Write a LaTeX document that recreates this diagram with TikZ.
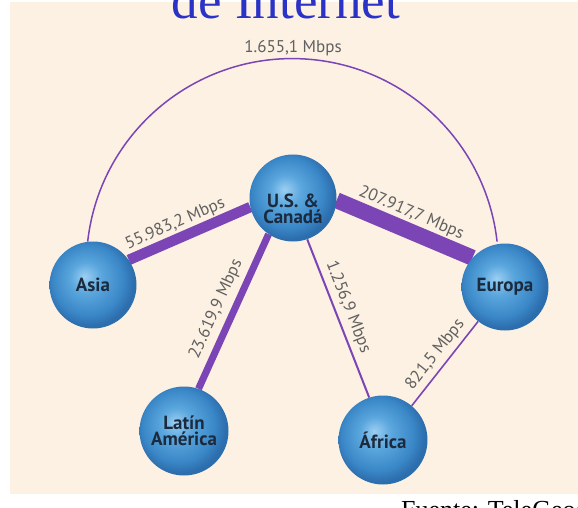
\documentclass[tikz,border=0pt]{standalone}
\usepackage{fontspec}
\setmainfont{Liberation Serif}
\newfontfamily\lblfont{PT Sans}
\newfontfamily\nodefont{PT Sans}
\pgfdeclarelayer{panel}
\pgfdeclarelayer{edges}
\pgfsetlayers{panel,edges,main}
\definecolor{panelc}{HTML}{FCF1E3}
\definecolor{bandc}{HTML}{7B45B5}
\definecolor{lblc}{HTML}{606060}
\definecolor{nodetxt}{HTML}{1C2A3E}
\definecolor{titleblue}{HTML}{2B33C6}
\definecolor{sph1}{HTML}{9ACFF2}
\definecolor{sph2}{HTML}{5AA6DD}
\definecolor{sph3}{HTML}{3B88C8}
\definecolor{sph4}{HTML}{2C6DAD}
\pgfdeclareradialshading{sphere}{\pgfpoint{-5bp}{5bp}}{color(0bp)=(sph1); color(9bp)=(sph2); color(20bp)=(sph3); color(26bp)=(sph4); color(50bp)=(sph4)}
\tikzset{
  ball/.style={circle, inner sep=0pt, minimum size=87pt, shading=sphere, text=nodetxt,
    font=\nodefont\bfseries\fontsize{19}{16.5}\selectfont, align=center},
  lbl/.style={text=lblc, font=\lblfont\fontsize{17}{19}\selectfont, inner sep=1.5pt},
  link/.style={draw=bandc}
}
\begin{document}
\begin{tikzpicture}[x=1pt, y=1pt]
\begin{pgfonlayer}{panel}
  \fill[white] (0,0) rectangle (578,507);
  \fill[panelc] (10,13) rectangle (578,505);
\end{pgfonlayer}
\useasboundingbox (0,0) rectangle (578,507);
\node[text=titleblue, font=\fontsize{53}{60}\selectfont, anchor=base, inner sep=0pt] (title) at (286,488) {de Internet};
\node[anchor=base west, font=\fontsize{26}{30}\selectfont, inner sep=0pt] (src) at (401,-11) {Fuente: TeleGeography};
% spheres
\node[ball] (usc) at (293,309) {};
\node[text=nodetxt, font=\nodefont\bfseries\fontsize{19}{16.5}\selectfont, align=center, inner sep=0pt] (usct) at (293,298) {U.S. \&\\Canadá};
\node[ball] (asia) at (93,222) {Asia};
\node[ball] (europa) at (505,220) {Europa};
\node[ball, minimum size=89pt] (latam) at (184,76) {Latín\\América};
\node[ball, minimum size=89pt] (africa) at (383,67) {África};
\node[lbl] (l1) at (293,459) {1.655,1 Mbps};
\begin{pgfonlayer}{edges}
  \draw[link, line width=1.5pt] (asia.97) arc[start angle=173.6, end angle=6.4, radius=206];
  \draw[link, line width=16pt] (usc.357) -- node[lbl, sloped, above, pos=0.5] (l2) {207.917,7 Mbps} (europa.138);
  \draw[link, line width=10.5pt] (usc.192) -- node[lbl, sloped, above, pos=0.57] (l3) {55.983,2 Mbps} (asia.35);
  \draw[link, line width=7pt] (usc.236) -- node[lbl, sloped, above=4pt, pos=0.53] (l4) {23.619,9 Mbps} (latam.71);
  \draw[link, line width=2pt] (usc.289) -- node[lbl, sloped, above=3pt, pos=0.46] (l5) {1.256,9 Mbps} (africa.108);
  \draw[link, line width=1.6pt] (europa.232) -- node[lbl, sloped, above=3pt, pos=0.49] (l6) {821,5 Mbps} (africa.50);
\end{pgfonlayer}
\end{tikzpicture}
\end{document}
